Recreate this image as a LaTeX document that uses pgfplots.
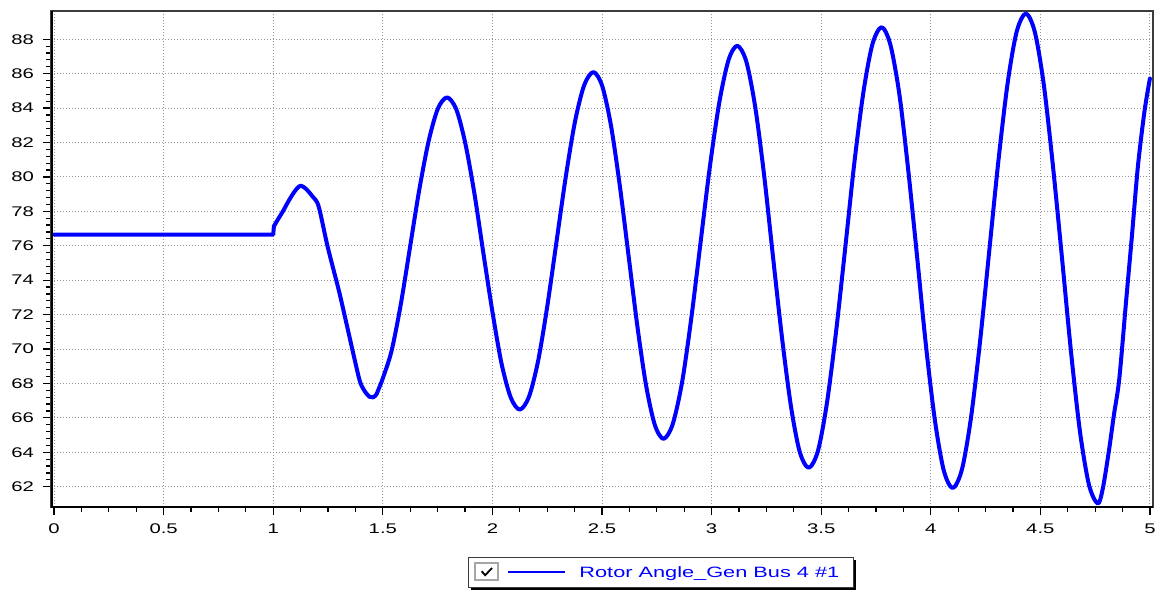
\documentclass[border=0pt]{standalone}
\usepackage{pgfplots}
\pgfplotsset{compat=1.18}
\usepackage{fontspec}
\setmainfont{Liberation Sans}[FakeStretch=1.45]
\definecolor{gridgray}{RGB}{150,150,150}
\definecolor{frame}{RGB}{60,60,60}
\begin{document}
\begin{tikzpicture}
\useasboundingbox (0,0) rectangle (577.5pt,295pt);
\begin{axis}[
  at={(25.5pt,41.5pt)}, anchor=south west,
  width=551pt, height=248pt, scale only axis,
  xmin=-0.014, xmax=5.014, ymin=60.82, ymax=89.64,
  xtick={0,0.5,1,1.5,2,2.5,3,3.5,4,4.5,5},
  xticklabels={0,0.5,1,1.5,2,2.5,3,3.5,4,4.5,5},
  ytick={62,64,66,68,70,72,74,76,78,80,82,84,86,88},
  minor x tick num=3, minor y tick num=4,
  tick align=outside, xtick pos=bottom, ytick pos=left,
  major tick length=4pt, minor tick length=2.5pt,
  every tick/.style={black, line width=0.6pt},
  /pgf/number format/assume math mode=true,
  tick label style={font=\fontsize{7}{8}\selectfont, black},
  yticklabel style={xshift=-1pt},
  xticklabel style={yshift=-1pt},
  grid=major,
  major grid style={gridgray, line width=0.5pt, dash pattern=on 0.6pt off 0.9pt},
  axis line style={frame, line width=1pt},
]
\addplot[blue, line width=2pt, line join=round, line cap=round] coordinates {
(0,76.65) (1.0,76.65) (1.003,77.13)
};
\addplot[blue, line width=2pt, line join=round, line cap=round, smooth, tension=0.5] coordinates {
(1.003,77.13) (1.02,77.5) (1.044,78.0) (1.07,78.6) (1.093,79.07) (1.11,79.35) (1.126,79.49)
(1.15,79.3) (1.18,78.85) (1.207,78.29) (1.249,75.9) (1.298,73.47) (1.332,71.6) (1.373,69.3) (1.397,68.06) (1.42,67.5) (1.44,67.22) (1.455,67.19) (1.47,67.35) (1.481,67.68)
(1.50,68.3) (1.540,69.9) (1.582,72.6) (1.624,75.91) (1.666,79.23) (1.709,82.08) (1.751,83.96) (1.793,84.62)
(1.835,83.93) (1.876,81.97) (1.918,79.02) (1.959,75.55) (2.001,72.09) (2.042,69.13) (2.084,67.17) (2.125,66.48)
(2.167,67.23) (2.209,69.34) (2.251,72.54) (2.293,76.29) (2.335,80.03) (2.377,83.23) (2.419,85.34) (2.461,86.09)
(2.501,85.28) (2.541,82.98) (2.581,79.51) (2.621,75.44) (2.661,71.36) (2.701,67.89) (2.741,65.59) (2.781,64.78)
(2.823,65.65) (2.866,68.12) (2.908,71.85) (2.950,76.22) (2.992,80.58) (3.035,84.31) (3.077,86.78) (3.117,87.62)
(3.158,86.72) (3.199,84.07) (3.240,80.06) (3.280,75.38) (3.321,70.69) (3.362,66.68) (3.402,64.03) (3.443,63.10)
(3.485,64.07) (3.526,66.84) (3.568,71.01) (3.610,75.90) (3.651,80.78) (3.693,84.95) (3.734,87.72) (3.776,88.70)
(3.816,87.67) (3.857,84.78) (3.897,80.42) (3.938,75.32) (3.978,70.21) (4.019,65.85) (4.059,62.96) (4.100,61.92)
(4.142,62.99) (4.183,65.96) (4.225,70.45) (4.267,75.72) (4.309,80.98) (4.351,85.47) (4.392,88.44) (4.434,89.49)
(4.475,88.41) (4.516,85.33) (4.557,80.69) (4.599,75.26) (4.640,69.82) (4.681,65.18) (4.722,62.10) (4.762,61.02)
(4.785,61.9) (4.813,64.1) (4.836,66.2) (4.86,68.25) (4.89,72.6) (4.918,76.6) (4.945,80.6) (4.975,83.8) (5.0,85.72)
};
\draw[black, line width=2pt] (rel axis cs:0,0) -- (rel axis cs:0,1);
\draw[black, line width=1.5pt] (rel axis cs:0,0) -- (rel axis cs:1,0);
\end{axis}
% legend
\fill[black] (235.5pt,0pt) rectangle (428pt,15pt);
\draw[frame, fill=white, line width=0.5pt] (234pt,1.5pt) rectangle (426.5pt,16.5pt);
\draw[gray!70, fill=white, line width=0.6pt] (237.5pt,5pt) rectangle (249pt,13.5pt);
\draw[black, line width=0.9pt] (240.8pt,9.4pt) -- (242.6pt,7.4pt) -- (246pt,11pt);
\draw[blue, line width=1.1pt] (254pt,9pt) -- (282.5pt,9pt);
\node[anchor=base west, inner sep=0pt, text=blue, font=\fontsize{7.5}{8.5}\selectfont] at (289.5pt,6.3pt) {Rotor Angle\_Gen Bus 4 \#1};
\end{tikzpicture}
\end{document}
